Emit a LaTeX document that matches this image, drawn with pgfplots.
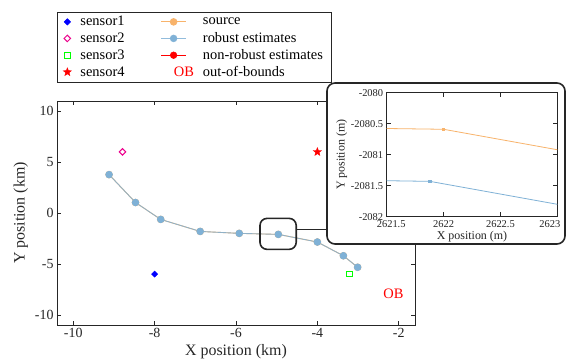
\documentclass[border=0pt]{standalone}
\usepackage{fontspec}
\setmainfont{Liberation Serif}
\usepackage{pgfplots}
\pgfplotsset{compat=1.18}
\definecolor{cblue}{HTML}{7FB1D6}
\definecolor{corange}{HTML}{F8B36B}
\definecolor{cgray}{HTML}{262626}
\pgfdeclareplotmark{fstar}{%
  \pgfpathmoveto{\pgfpointpolar{90}{\pgfplotmarksize}}%
  \pgfpathlineto{\pgfpointpolar{126}{0.42\pgfplotmarksize}}%
  \pgfpathlineto{\pgfpointpolar{162}{\pgfplotmarksize}}%
  \pgfpathlineto{\pgfpointpolar{198}{0.42\pgfplotmarksize}}%
  \pgfpathlineto{\pgfpointpolar{234}{\pgfplotmarksize}}%
  \pgfpathlineto{\pgfpointpolar{270}{0.42\pgfplotmarksize}}%
  \pgfpathlineto{\pgfpointpolar{306}{\pgfplotmarksize}}%
  \pgfpathlineto{\pgfpointpolar{342}{0.42\pgfplotmarksize}}%
  \pgfpathlineto{\pgfpointpolar{18}{\pgfplotmarksize}}%
  \pgfpathlineto{\pgfpointpolar{54}{0.42\pgfplotmarksize}}%
  \pgfpathclose
  \pgfusepathqfillstroke}
\begin{document}
\begin{tikzpicture}
\useasboundingbox (-57bp,-35bp) rectangle (509bp,325bp);
\begin{axis}[at={(0bp,0bp)}, anchor=south west, scale only axis,
  width=358bp, height=224bp,
  xmin=-10.4, xmax=-1.6, ymin=-11, ymax=11,
  xtick={-10,-8,-6,-4,-2}, ytick={-10,-5,0,5,10},
  tick align=inside,
  /pgf/number format/assume math mode=true,
  ticklabel style={font=\fontsize{14}{16}\selectfont, text=cgray},
  xlabel={X position (km)}, ylabel={Y position (km)},
  label style={font=\fontsize{16}{18}\selectfont, text=cgray},
  axis line style={cgray, line width=0.6pt},
  tick style={cgray, line width=0.6pt},
  legend columns=2,
  legend cell align=left,
  legend style={at={(0,1.397)}, anchor=north west, draw=cgray, line width=0.6pt,
    font=\fontsize{14.5}{16}\selectfont, row sep=1.3pt, inner xsep=6pt, inner ysep=2pt,
    /tikz/every odd column/.append style={column sep=7bp},
    /tikz/every even column/.append style={column sep=34bp}},
]
% sensor1
\addplot[only marks, mark=square*, mark size=2.2bp, color=blue, mark options={rotate=45}] coordinates {(-8,-6)};
\addlegendentry{sensor1}
% source
\addplot[color=corange, line width=0.9pt, mark=*, mark size=3.3bp,
  legend image code/.code={\draw[corange, line width=1.1pt] (0cm,0cm) -- (0.88cm,0cm); \fill[corange] (0.44cm,0cm) circle[radius=3.3bp];}]
  coordinates {(-9.12,3.77) (-8.47,1.03) (-7.85,-0.63) (-6.88,-1.81) (-5.92,-2.0) (-4.96,-2.1) (-4.0,-2.85) (-3.36,-4.2) (-3.01,-5.33)};
\addlegendentry{source}
% sensor2
\addplot[only marks, mark=square, mark size=2.3bp, color=magenta, line width=1pt, mark options={rotate=45}] coordinates {(-8.79,6.0)};
\addlegendentry{sensor2}
% robust
\addplot[color=cblue, draw opacity=0.85, line width=0.9pt, mark=*, mark size=3.3bp, mark options={draw opacity=1, fill=cblue, draw=cblue},
  legend image code/.code={\draw[cblue, line width=1.1pt] (0cm,0cm) -- (0.88cm,0cm); \fill[cblue] (0.44cm,0cm) circle[radius=3.3bp];}]
  coordinates {(-9.12,3.77) (-8.47,1.03) (-7.85,-0.63) (-6.88,-1.81) (-5.92,-2.0) (-4.96,-2.1) (-4.0,-2.85) (-3.36,-4.2) (-3.01,-5.33)};
\addlegendentry{robust estimates}
% sensor3
\addplot[only marks, mark=square, mark size=2.8bp, color=green, line width=1pt] coordinates {(-3.21,-6.0)};
\addlegendentry{sensor3}
% non-robust (legend only)
\addlegendimage{legend image code/.code={\draw[red, line width=1.1pt] (0cm,0cm) -- (0.88cm,0cm); \fill[red] (0.44cm,0cm) circle[radius=3.3bp];}}
\addlegendentry{non-robust estimates}
% sensor4
\addplot[only marks, mark=fstar, mark size=4.3bp, color=red, mark options={fill=red, line width=0.4pt}] coordinates {(-4,6)};
\addlegendentry{sensor4}
% OB
\addlegendimage{legend image code/.code={\node[text=red, font=\fontsize{14.5}{16}\selectfont, inner sep=0pt] at (0.44cm,0) {OB};}}
\addlegendentry{out-of-bounds}
\node[text=red, font=\fontsize{14.5}{16}\selectfont] at (axis cs:-2.13,-7.95) {OB};
\draw[line width=1.6bp, black!85, rounded corners=7bp] (axis cs:-5.41,-0.53) rectangle (axis cs:-4.52,-3.57);
\coordinate (conn) at (axis cs:-4.52,-1.63);
\end{axis}
\coordinate (il) at (270bp,0bp);
\draw[line width=1.6bp, black!85] (conn) -- (conn -| il);
\draw[line width=1.6bp, black!85, rounded corners=8bp, fill=white] (270bp,81bp) rectangle (508bp,242bp);
\begin{axis}[at={(329.7bp,108.3bp)}, anchor=south west, scale only axis,
  width=170.6bp, height=124bp,
  xmin=2621.5, xmax=2623, ymin=-2082, ymax=-2080,
  xtick={2621.5,2622,2622.5,2623}, ytick={-2082,-2081.5,-2081,-2080.5,-2080},
  xticklabels={{\hspace*{9bp}2621.5},2622,2622.5,{\hspace*{-15bp}2623}},
  tick align=inside,
  /pgf/number format/.cd, fixed, precision=1, 1000 sep={}, assume math mode=true, /pgfplots/.cd,
  ticklabel style={font=\fontsize{10.5}{12}\selectfont, text=cgray},
  xlabel={X position (m)}, ylabel={Y position (m)},
  label style={font=\fontsize{12}{14}\selectfont, text=cgray},
  xlabel style={yshift=3pt}, ylabel style={yshift=-3pt},
  xticklabel style={yshift=0pt},
  axis line style={cgray, line width=0.6pt},
  tick style={cgray, line width=0.6pt},
  axis background/.style={fill=white},
]
\addplot[color=corange, line width=0.8pt, mark=square*, mark size=1.1bp]
  coordinates {(2620.8,-2080.56) (2622.0,-2080.59) (2624.0,-2081.25)};
\addplot[color=cblue, line width=0.8pt, mark=square*, mark size=1.1bp]
  coordinates {(2620.8,-2081.40) (2621.88,-2081.43) (2624.0,-2082.13)};
\end{axis}
\end{tikzpicture}
\end{document}
